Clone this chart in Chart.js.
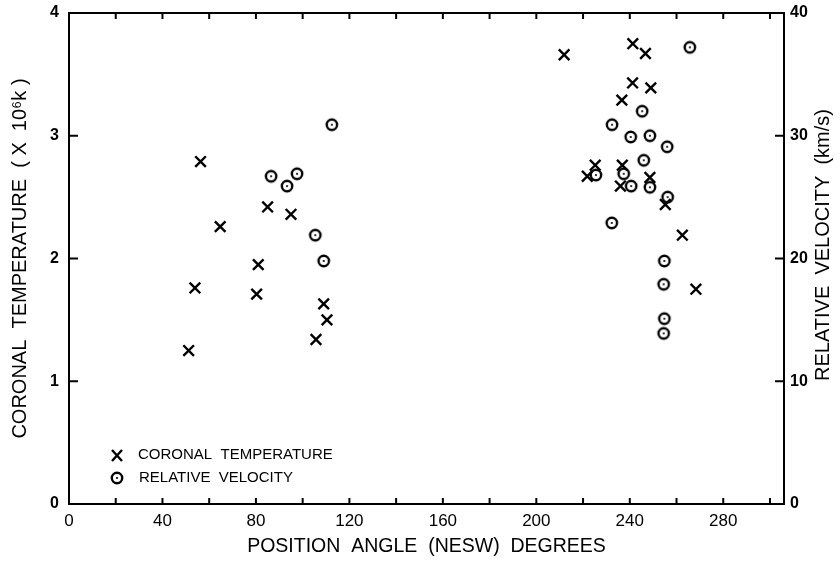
<!DOCTYPE html>
<html>
<head>
<meta charset="utf-8">
<script src="https://cdn.jsdelivr.net/npm/chart.js@4/dist/chart.umd.min.js"></script>
<style>
  html, body { margin: 0; padding: 0; background: #fff; }
  #wrap { width: 839px; height: 563px; }
</style>
</head>
<body>
<div id="wrap"><canvas id="myChart" width="839" height="563"></canvas></div>
<script>
// coronal temperature (x 10^6 K) vs position angle
const tempAngle = [51.2, 53.9, 56.3, 64.7, 80.3, 81, 85, 95, 105.7, 109, 110.4,
  211.9, 221.8, 225.2, 236, 236.6, 236.8, 241.2, 241.3, 246.7, 248.6, 249, 255.2, 262.5, 268.3];
const tempValue = [1.25, 1.76, 2.79, 2.26, 1.71, 1.95, 2.42, 2.36, 1.34, 1.63, 1.50,
  3.66, 2.67, 2.76, 2.59, 3.29, 2.76, 3.43, 3.75, 3.67, 2.66, 3.39, 2.44, 2.19, 1.75];

// relative velocity (km/s) vs position angle
const velAngle = [86.5, 93.3, 97.6, 105.4, 109, 112.5,
  225.5, 232.3, 232.4, 237.4, 240.4, 240.6, 245.3, 246, 248.6, 248.6, 254.5, 254.5, 254.8, 254.8, 256, 256.2, 265.7];
const velValue = [26.7, 25.9, 26.9, 21.9, 19.8, 30.9,
  26.8, 22.9, 30.9, 26.9, 29.9, 25.9, 32.0, 28.0, 30.0, 25.8, 17.9, 13.9, 19.8, 15.1, 29.1, 25.0, 37.2];

const xTicks = [0, 20, 40, 60, 80, 100, 120, 140, 160, 180, 200, 220, 240, 260, 280, 300];
const xLabels = [0, 40, 80, 120, 160, 200, 240, 280];
const tempTicks = [0, 1, 2, 3, 4];
const velTicks = [0, 10, 20, 30, 40];

const font = "'Liberation Sans', 'DejaVu Sans', sans-serif";

// circle with a dot in the middle
const dotCircle = document.createElement('canvas');
dotCircle.width = 16;
dotCircle.height = 16;
(function () {
  const c = dotCircle.getContext('2d');
  c.strokeStyle = '#000';
  c.lineWidth = 2.4;
  c.beginPath();
  c.arc(8, 8, 5.2, 0, Math.PI * 2);
  c.stroke();
  c.fillStyle = '#000';
  c.beginPath();
  c.arc(8, 8, 1.1, 0, Math.PI * 2);
  c.fill();
})();

const frame = {
  id: 'frame',
  afterDraw(chart) {
    const ctx = chart.ctx;
    const a = chart.chartArea;
    const x = chart.scales.x, yT = chart.scales.yT, yV = chart.scales.yV;
    ctx.save();
    ctx.strokeStyle = '#000';
    ctx.lineWidth = 2;
    ctx.strokeRect(a.left, a.top, a.right - a.left, a.bottom - a.top);
    ctx.beginPath();
    xTicks.forEach(v => {
      if (v === 0) return;
      const px = x.getPixelForValue(v);
      ctx.moveTo(px, a.bottom); ctx.lineTo(px, a.bottom - 6);
      ctx.moveTo(px, a.top); ctx.lineTo(px, a.top + 6);
    });
    tempTicks.forEach(v => {
      if (v === 0 || v === 4) return;
      const py = yT.getPixelForValue(v);
      ctx.moveTo(a.left, py); ctx.lineTo(a.left + 9, py);
    });
    velTicks.forEach(v => {
      if (v === 0 || v === 40) return;
      const py = yV.getPixelForValue(v);
      ctx.moveTo(a.right, py); ctx.lineTo(a.right - 9, py);
    });
    ctx.stroke();

    // legend
    ctx.lineWidth = 2.4;
    ctx.beginPath();
    ctx.moveTo(112, 450); ctx.lineTo(122, 461);
    ctx.moveTo(122, 450); ctx.lineTo(112, 461);
    ctx.stroke();
    ctx.drawImage(dotCircle, 117 - 8, 478 - 8);
    ctx.fillStyle = '#000';
    ctx.font = '15px ' + font;
    ctx.textBaseline = 'middle';
    ctx.fillText('CORONAL  TEMPERATURE', 138, 455);
    ctx.fillText('RELATIVE  VELOCITY', 139, 478);

    // right axis title, read bottom to top
    ctx.translate(823, 245);
    ctx.rotate(-Math.PI / 2);
    ctx.textAlign = 'center';
    ctx.font = '20px ' + font;
    ctx.fillText('RELATIVE  VELOCITY  (km/s)', 0, 0);
    ctx.restore();
  }
};

const ctx = document.getElementById('myChart').getContext('2d');
const myChart = new Chart(ctx, {
  type: 'scatter',
  data: {
    datasets: [{
      label: 'CORONAL TEMPERATURE',
      data: tempAngle.map((a, i) => ({ x: a, y: tempValue[i] })),
      yAxisID: 'yT',
      pointStyle: 'crossRot',
      pointRadius: 7.5,
      borderColor: '#000',
      borderWidth: 2.4
    },
    {
      label: 'RELATIVE VELOCITY',
      data: velAngle.map((a, i) => ({ x: a, y: velValue[i] })),
      yAxisID: 'yV',
      pointStyle: dotCircle,
      pointRadius: 8
    }]
  },
  options: {
    responsive: false,
    animation: false,
    layout: { padding: { top: 13, left: 0, right: 0, bottom: 0 } },
    plugins: { legend: { display: false }, tooltip: { enabled: false } },
    scales: {
      x: {
        type: 'linear',
        min: 0,
        max: 306,
        afterBuildTicks: s => { s.ticks = xTicks.map(v => ({ value: v })); },
        afterFit: s => { s.height = 59; s.paddingLeft = 0; s.paddingRight = 0; },
        grid: { display: false, drawTicks: false },
        border: { display: false },
        ticks: {
          color: '#000',
          padding: 7,
          maxRotation: 0,
          autoSkip: false,
          font: { family: font, size: 17 },
          callback: v => xLabels.includes(v) ? String(v) : ''
        },
        title: {
          display: true,
          text: 'POSITION  ANGLE  (NESW)  DEGREES',
          color: '#000',
          font: { family: font, size: 19.5 },
          padding: { top: 0, bottom: 5 }
        }
      },
      yT: {
        type: 'linear',
        position: 'left',
        min: 0,
        max: 4,
        afterBuildTicks: s => { s.ticks = tempTicks.map(v => ({ value: v })); },
        afterFit: s => { s.width = 69; s.paddingTop = 0; s.paddingBottom = 0; },
        grid: { display: false, drawTicks: false },
        border: { display: false },
        ticks: {
          color: '#000',
          padding: 10,
          font: { family: font, size: 16, weight: 'bold' }
        },
        title: {
          display: true,
          text: 'CORONAL  TEMPERATURE  ( X  10\u2076k )',
          color: '#000',
          font: { family: font, size: 20 },
          padding: { top: 8, bottom: 0 }
        }
      },
      yV: {
        type: 'linear',
        position: 'right',
        min: 0,
        max: 40,
        afterBuildTicks: s => { s.ticks = velTicks.map(v => ({ value: v })); },
        afterFit: s => { s.width = 55; s.paddingTop = 0; s.paddingBottom = 0; },
        grid: { display: false, drawTicks: false },
        border: { display: false },
        ticks: {
          color: '#000',
          padding: 6,
          font: { family: font, size: 16, weight: 'bold' }
        }
      }
    }
  },
  plugins: [frame]
});
</script>
</body>
</html>
